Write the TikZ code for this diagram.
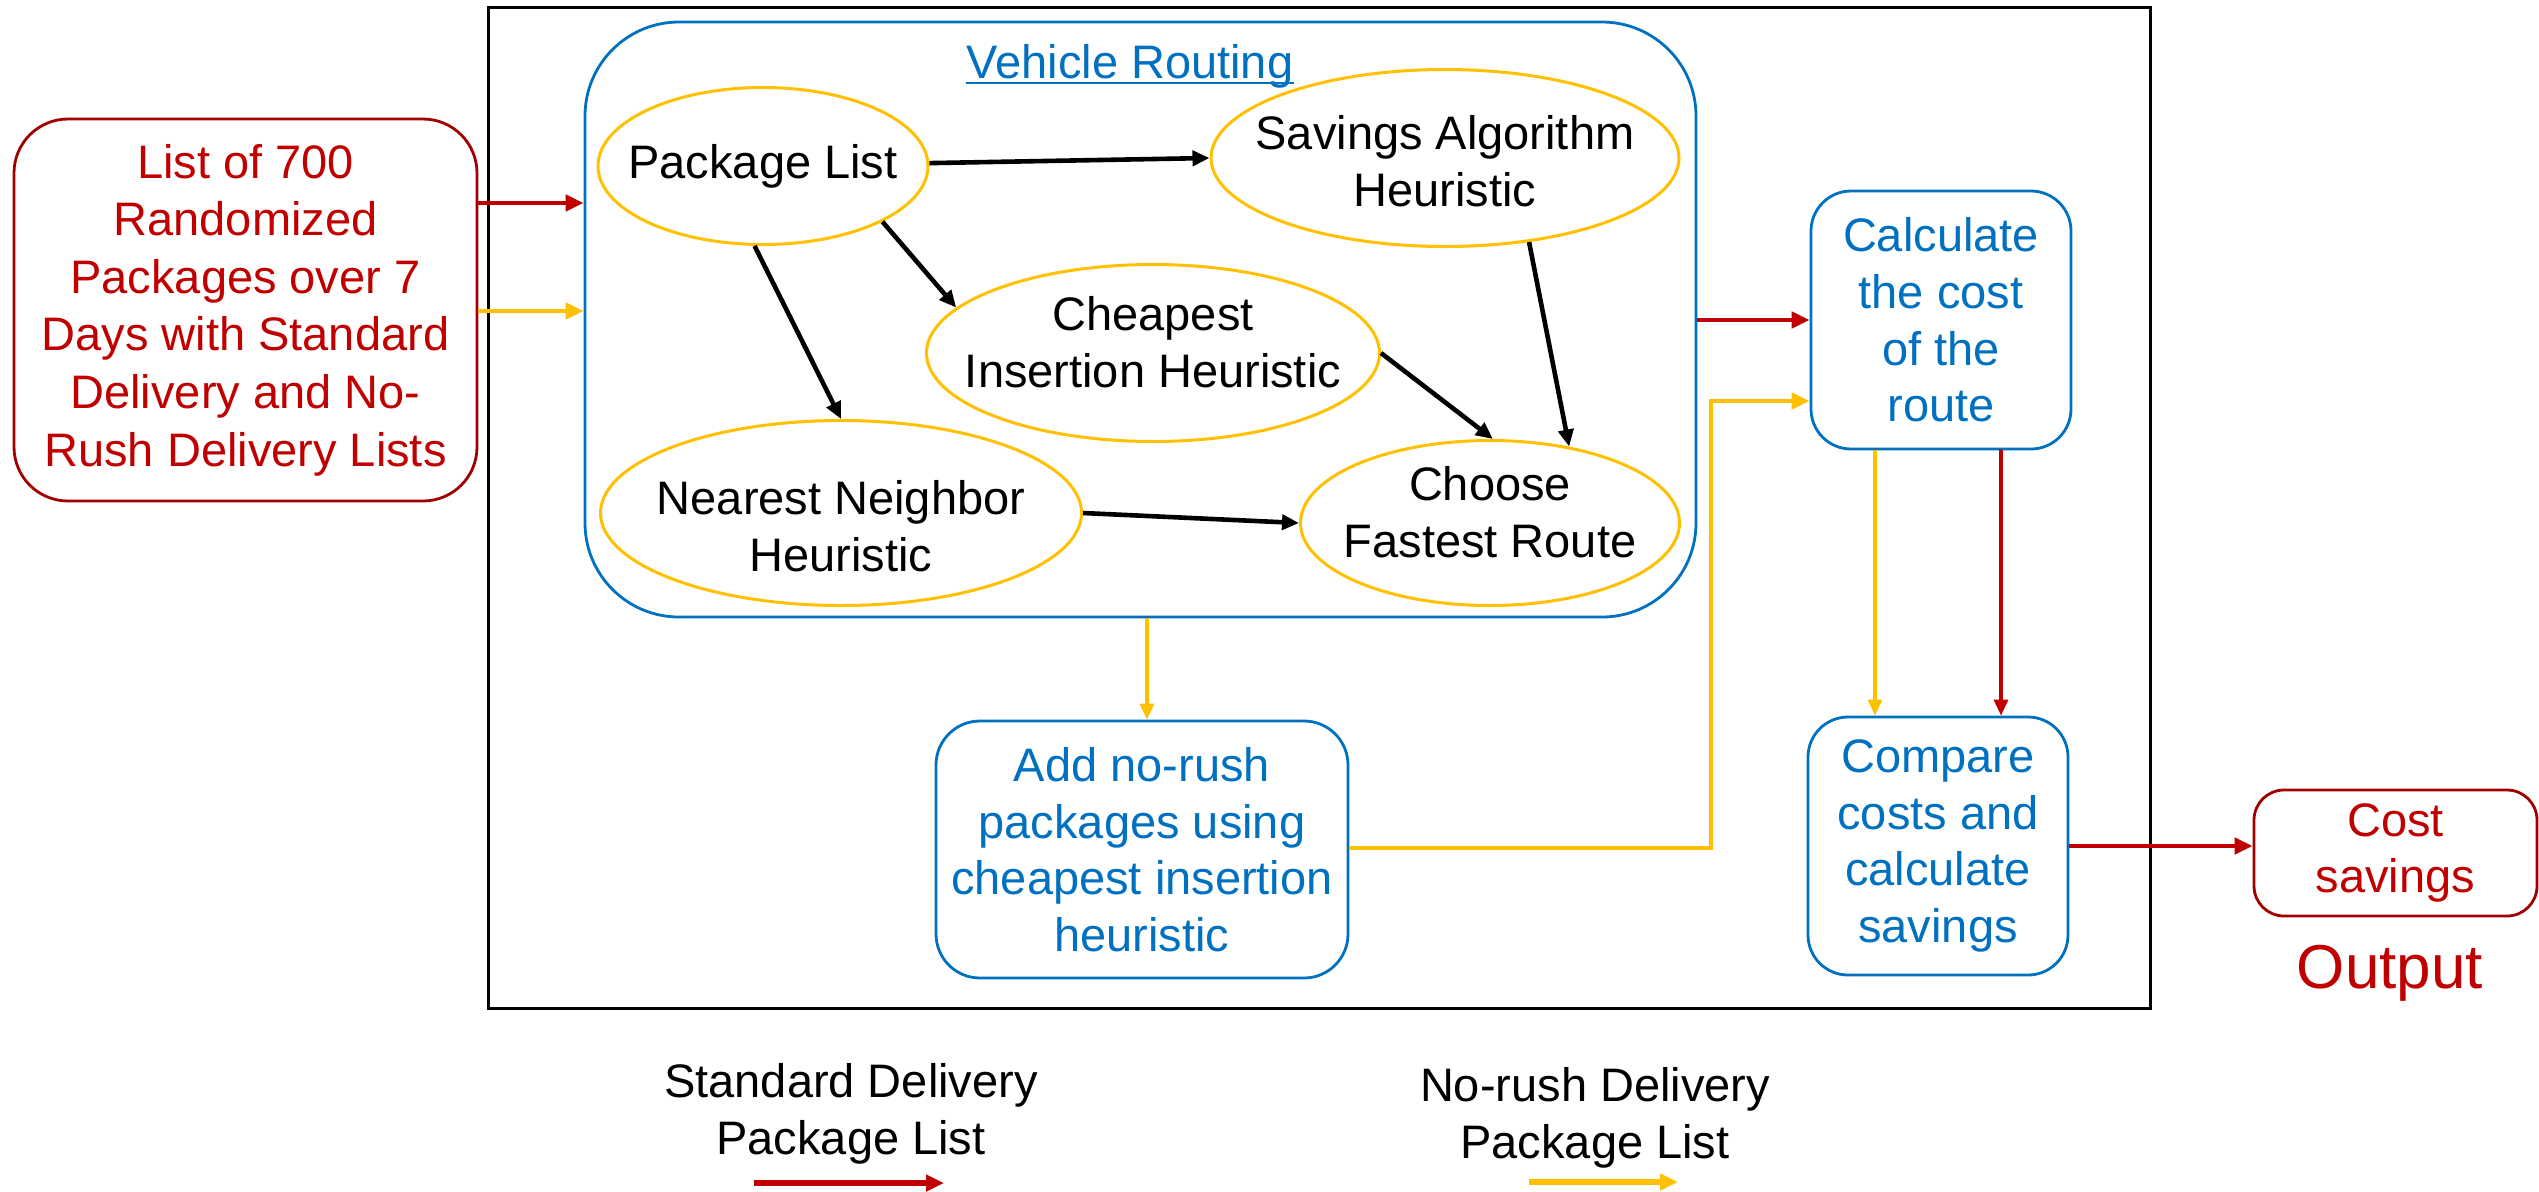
\documentclass[tikz,border=0pt]{standalone}
\usepackage{fontspec}
\setmainfont{Liberation Sans}
\usetikzlibrary{arrows.meta,shapes.geometric,calc}
\definecolor{cred}{HTML}{C00000}
\definecolor{cdred}{HTML}{A00000}
\definecolor{cyel}{HTML}{FFC000}
\definecolor{cblue}{HTML}{0070C0}
\begin{document}
\begin{tikzpicture}[x=0.5pt,y=-0.5pt,
  txt/.style={font=\fontsize{23.5}{28.3}\selectfont, align=center},
  ell/.style={ellipse, draw=cyel, line width=1.5pt, inner sep=0pt},
  etxt/.style={txt, inner sep=0pt},
  bbox/.style={rectangle, draw=cblue, line width=1.4pt, text=cblue, inner sep=0pt, txt},
  rbox/.style={rectangle, draw=cdred, line width=1.4pt, text=cred, inner sep=0pt, txt},
  blk/.style={line width=2.3pt, -{Triangle[length=8.5pt,width=7.5pt]}},
  redarr/.style={draw=cred, line width=2.2pt, -{Triangle[length=9pt,width=8pt]}},
  yelarr/.style={draw=cyel, line width=2.2pt, -{Triangle[length=9pt,width=8pt]}},
  redthin/.style={draw=cred, line width=1.6pt, -{Triangle[length=8pt,width=7pt]}},
  yelthin/.style={draw=cyel, line width=1.6pt, -{Triangle[length=8pt,width=7pt]}}
]
\useasboundingbox (0,0) rectangle (2539,1191);

% outer frame
\node[draw, line width=1.5pt, minimum width=831pt, minimum height=500.5pt, inner sep=0pt] (frame) at (1319,507.5) {};

% input box
\node[rbox, rounded corners=27pt, minimum width=231.5pt, minimum height=191pt,
  font=\fontsize{23.5}{28.8}\selectfont] (input) at (245.5,310)
  {List of 700\\Randomized\\Packages over 7\\Days with Standard\\Delivery and No-\\Rush Delivery Lists};

% vehicle routing container
\node[bbox, rounded corners=47pt, minimum width=555.5pt, minimum height=297.5pt] (vr) at (1140.5,319.5) {};
\node[txt, text=cblue, anchor=base, inner sep=0pt] (vrt) at (1130,78) {Vehicle Routing};
\draw[cblue, line width=1.2pt] ([yshift=-2.5pt]vrt.base west) -- ([yshift=-2.5pt]vrt.base east);

% ellipses
\node[ell, minimum width=165pt, minimum height=78.5pt,
  label={[etxt]center:Package List}] (pl) at (763,166) {};
\node[ell, minimum width=234pt, minimum height=88.5pt,
  label={[etxt, yshift=-1.5pt]center:Savings Algorithm\\Heuristic}] (sav) at (1445,158) {};
\node[ell, minimum width=226.5pt, minimum height=88.5pt,
  label={[etxt, yshift=5.5pt]center:Cheapest\\Insertion Heuristic}] (chp) at (1153,353) {};
\node[ell, minimum width=240.5pt, minimum height=92.5pt,
  label={[etxt, yshift=-6.5pt]center:Nearest Neighbor\\Heuristic}] (nn) at (841,513) {};
\node[ell, minimum width=189.5pt, minimum height=82.5pt,
  label={[etxt, yshift=5.5pt]center:Choose\\Fastest Route}] (cfr) at (1490,523) {};

% blue boxes
\node[bbox, rounded corners=20pt, minimum width=130pt, minimum height=129pt] (calc) at (1941,320)
  {Calculate\\the cost\\of the\\route};
\node[bbox, rounded corners=20pt, minimum width=130pt, minimum height=129pt] (cmp) at (1938,846)
  {Compare\\costs and\\calculate\\savings};
\node[bbox, rounded corners=22pt, minimum width=206pt, minimum height=128.5pt] (add) at (1142,849.5)
  {Add no-rush\\packages using\\cheapest insertion\\heuristic};

% output
\node[rbox, rounded corners=15pt, minimum width=141.5pt, minimum height=63pt] (cost) at (2395.5,853)
  {Cost\\savings};
\node[font=\fontsize{31}{36}\selectfont, text=cred, anchor=base] (out) at (2390,988) {Output};

% legend
\node[txt] (leg1) at (851,1114) {Standard Delivery\\Package List};
\node[txt] (leg2) at (1595,1118) {No-rush Delivery\\Package List};
\coordinate (l1a) at (754,1183);
\coordinate (l1b) at (944,1183);
\coordinate (l2a) at (1529,1182);
\coordinate (l2b) at (1678,1182);
\draw[redarr, line width=2.6pt] (l1a) -- (l1b);
\draw[yelarr, line width=2.6pt] (l2a) -- (l2b);

% black arrows inside vehicle routing
\draw[blk] (pl.1) -- (sav.west);
\draw[blk] (pl.-96) -- (nn.north);
\draw[blk] (pl.-25) -- (chp.167);
\draw[blk] (chp.east) -- (cfr.88);
\draw[blk] (sav.-45) -- (cfr.44);
\draw[blk] (nn.east) -- (cfr.west);

% coloured flows
\draw[redarr] (input.east |- 0,203) -- (vr.west |- 0,203);
\draw[yelarr] (input.east |- 0,311) -- (vr.west |- 0,311);
\draw[redarr] (vr.east |- 0,320) -- (calc.west |- 0,320);
\draw[yelthin] (1147,0 |- vr.south) -- (1147,0 |- add.north);
\draw[yelarr] (add.east |- 0,848) -| (1711,401) -- (calc.west |- 0,401);
\draw[yelthin] (1875,0 |- calc.south) -- (1875,0 |- cmp.north);
\draw[redthin] (2001,0 |- calc.south) -- (2001,0 |- cmp.north);
\draw[redarr] (cmp.east |- 0,846) -- (cost.west |- 0,846);
\end{tikzpicture}
\end{document}
